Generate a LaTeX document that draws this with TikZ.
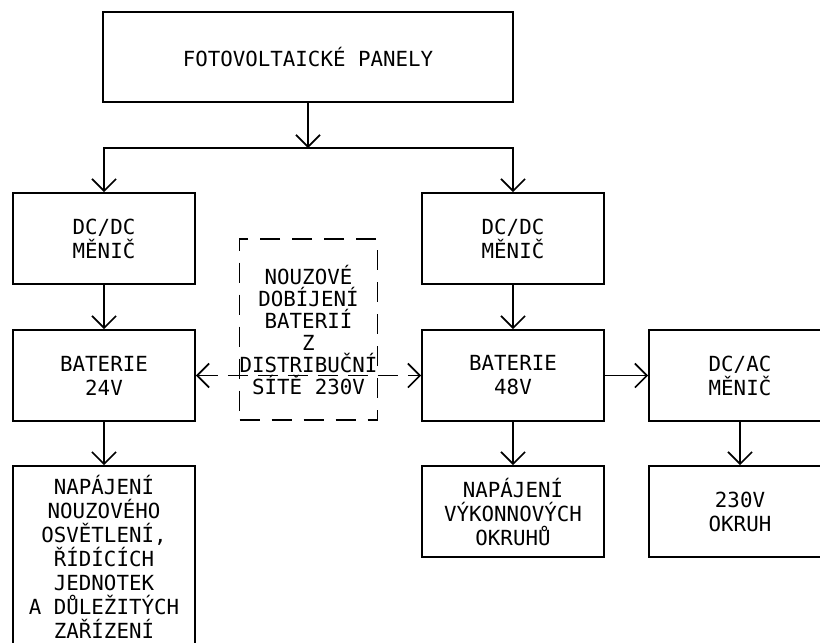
\documentclass[tikz,border=0pt]{standalone}
\usepackage{fontspec}
\setmainfont{DejaVu Sans Mono}
\usetikzlibrary{arrows.meta}
\begin{document}
\begin{tikzpicture}[x=1pt,y=-1pt,
  line width=1.7pt,
  every node/.style={font=\fontsize{20.8pt}{24pt}\selectfont, align=center, inner sep=0pt},
  blk/.style={draw, minimum width=182pt, minimum height=91pt},
  arr/.style={-{Straight Barb[length=12pt,width=24pt,line width=1.7pt]}},
  darr/.style={{Straight Barb[length=12pt,width=24pt,line width=1.7pt]}-{Straight Barb[length=12pt,width=24pt,line width=1.7pt]}, dash pattern=on 20pt off 10pt},
  dbox/.style={draw, dash pattern=on 20pt off 12pt, minimum width=137pt, minimum height=181pt, font=\fontsize{20.8pt}{22pt}\selectfont}]
\clip (0,0) rectangle (820,643);
\fill[white] (0,0) rectangle (820,643);
\node[draw, minimum width=410pt, minimum height=90pt] (top) at (308,57) {FOTOVOLTAICKÉ PANELY};
\node[blk] (dc1) at (104,238.5) {DC/DC\\MĚNIČ};
\node[blk] (dc2) at (513,238.5) {DC/DC\\MĚNIČ};
\node[blk] (bat1) at (104,375.5) {BATERIE\\24V};
\node[blk] (bat2) at (513,375.5) {BATERIE\\48V};
\node[blk] (dcac) at (740,375.5) {DC/AC\\MĚNIČ};
\node[blk, minimum height=182pt] (load1) at (104,557) {NAPÁJENÍ\\NOUZOVÉHO\\OSVĚTLENÍ,\\ŘÍDÍCÍCH\\JEDNOTEK\\A DŮLEŽITÝCH\\ZAŘÍZENÍ};
\node[blk] (load2) at (513,511.5) {NAPÁJENÍ\\VÝKONNOVÝCH\\OKRUHŮ};
\node[blk] (ac) at (740,511.5) {230V\\OKRUH};
\node[dbox] (nouz) at (308.5,329.5) {NOUZOVÉ\\DOBÍJENÍ\\BATERIÍ\\Z\\DISTRIBUČNÍ\\SÍTĚ 230V};
\coordinate (j) at (308,148);
\draw[arr] (top) -- (j);
\draw[arr] (j) -| (dc1.north);
\draw[arr] (j) -| (dc2.north);
\draw[arr] (dc1) -- (bat1);
\draw[arr] (dc2) -- (bat2);
\draw[arr] (bat1) -- (load1);
\draw[arr] (bat2) -- (load2);
\draw[arr] (bat2) -- (dcac);
\draw[arr] (dcac) -- (ac);
\draw[darr] (bat1.east) -- (bat2.west);
\end{tikzpicture}
\end{document}
